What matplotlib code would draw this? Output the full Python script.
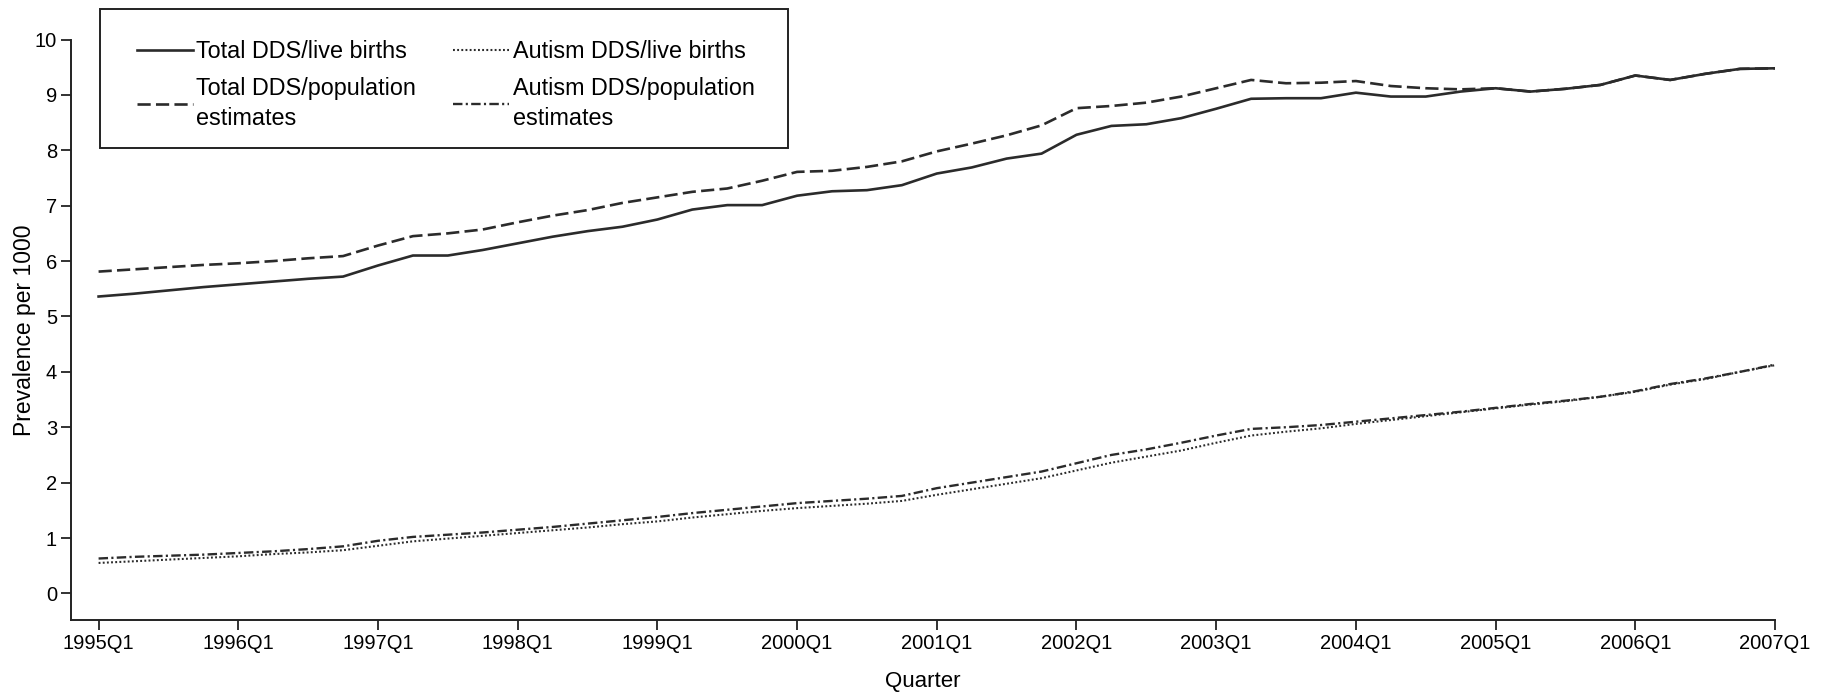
import matplotlib.pyplot as plt
from matplotlib.patches import Rectangle

plt.rcParams['font.family'] = ['Liberation Sans', 'DejaVu Sans']

# quarterly prevalence per 1000, 1995Q1 .. 2007Q1
quarters = [f'{y}Q{q}' for y in range(1995, 2008) for q in range(1, 5)][:49]

total_live = [5.36, 5.41, 5.47, 5.53, 5.58, 5.63, 5.68, 5.72, 5.92, 6.10,
              6.10, 6.20, 6.32, 6.44, 6.54, 6.62, 6.75, 6.93, 7.01, 7.01,
              7.18, 7.26, 7.28, 7.37, 7.58, 7.69, 7.85, 7.94, 8.28, 8.44,
              8.47, 8.58, 8.75, 8.93, 8.94, 8.94, 9.04, 8.97, 8.97, 9.06,
              9.12, 9.06, 9.11, 9.18, 9.35, 9.27, 9.38, 9.47, 9.48]

total_pop = [5.81, 5.85, 5.89, 5.93, 5.96, 6.00, 6.05, 6.09, 6.28, 6.45,
             6.50, 6.57, 6.70, 6.82, 6.92, 7.05, 7.15, 7.25, 7.31, 7.45,
             7.61, 7.63, 7.70, 7.80, 7.98, 8.12, 8.27, 8.45, 8.76, 8.80,
             8.86, 8.97, 9.12, 9.27, 9.21, 9.22, 9.25, 9.16, 9.12, 9.10,
             9.12, 9.06, 9.11, 9.18, 9.35, 9.27, 9.38, 9.47, 9.48]

autism_live = [0.55, 0.58, 0.61, 0.64, 0.67, 0.71, 0.74, 0.78, 0.86, 0.94,
               0.99, 1.04, 1.09, 1.14, 1.19, 1.25, 1.30, 1.37, 1.43, 1.49,
               1.54, 1.58, 1.62, 1.67, 1.78, 1.88, 1.98, 2.08, 2.22, 2.36,
               2.47, 2.58, 2.72, 2.85, 2.92, 2.98, 3.06, 3.13, 3.20, 3.27,
               3.34, 3.41, 3.47, 3.55, 3.64, 3.77, 3.87, 4.00, 4.12]

autism_pop = [0.63, 0.66, 0.68, 0.70, 0.73, 0.76, 0.80, 0.85, 0.95, 1.02,
              1.06, 1.10, 1.15, 1.20, 1.26, 1.32, 1.38, 1.45, 1.51, 1.57,
              1.63, 1.67, 1.71, 1.76, 1.90, 2.00, 2.10, 2.20, 2.35, 2.50,
              2.60, 2.72, 2.85, 2.97, 3.00, 3.04, 3.10, 3.16, 3.22, 3.28,
              3.35, 3.42, 3.48, 3.55, 3.65, 3.78, 3.88, 4.00, 4.13]

x = list(range(len(quarters)))
ink = '#2b2b2b'
W, H = 1825, 693

fig = plt.figure(figsize=(W / 100, H / 100), dpi=100)
ax = fig.add_axes([71 / W, 1 - 620 / H, (1775 - 71) / W, (620 - 39.5) / H])

h1, = ax.plot(x, total_live, color=ink, lw=1.9, ls='-')
h2, = ax.plot(x, total_pop, color=ink, lw=1.9, ls=(0, (5.0, 2.0)))
h3, = ax.plot(x, autism_live, color=ink, lw=1.5, ls=(0, (0.9, 1.1)))
h4, = ax.plot(x, autism_pop, color=ink, lw=1.7, ls=(0, (4.0, 1.4, 0.9, 1.4)))

ax.set_xlim(-0.79, 48)
ax.set_ylim(-0.48, 10)
ax.set_xticks(x[::4])
ax.set_xticklabels(quarters[::4])
ax.set_yticks(range(0, 11))

for side in ['top', 'right']:
    ax.spines[side].set_visible(False)
for side in ['left', 'bottom']:
    ax.spines[side].set_linewidth(1.4)
    ax.spines[side].set_color('#222222')
ax.tick_params(length=7, width=1.3, color='#222222', labelsize=14.5, pad=3)

ax.set_xlabel('Quarter', fontsize=16, labelpad=13)
ax.set_ylabel('Prevalence per 1000', fontsize=16.5, labelpad=-1)

# legend box drawn separately so its padding can be set freely
fig.patches.append(Rectangle((100 / W, 1 - 148 / H), 688 / W, 139 / H,
                             transform=fig.transFigure, fill=False,
                             edgecolor='#222222', lw=1.4))

leg = ax.legend([h1, h2, h3, h4],
                ['Total DDS/live births', 'Total DDS/population\nestimates',
                 'Autism DDS/live births', 'Autism DDS/population\nestimates'],
                ncol=2, loc='upper left', bbox_to_anchor=(105 / W, 1 - 9 / H),
                bbox_transform=fig.transFigure, fontsize=16.8, frameon=False,
                handlelength=2.4, handletextpad=0.15, columnspacing=1.6,
                labelspacing=0.6, borderpad=1.35, borderaxespad=0)
for t in leg.get_texts():
    t.set_linespacing(1.35)

fig.savefig('out.png', dpi=100)
